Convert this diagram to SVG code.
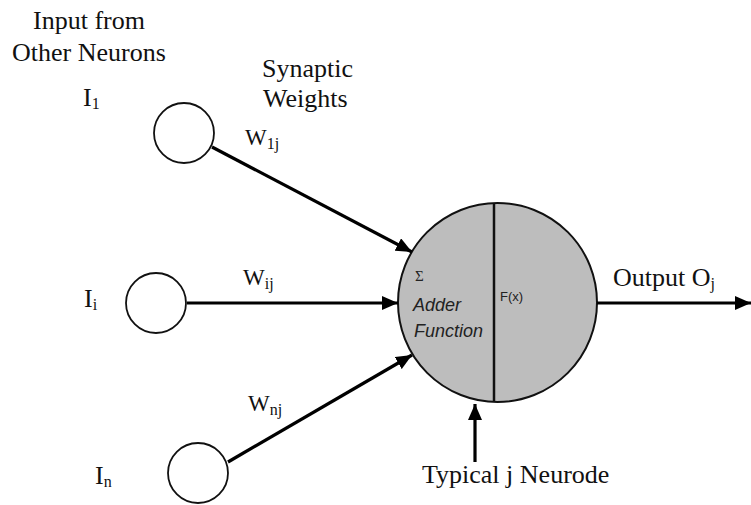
<svg xmlns="http://www.w3.org/2000/svg" width="751" height="505" viewBox="0 0 751 505">
<defs>
<marker id="ah" markerUnits="userSpaceOnUse" markerWidth="18" markerHeight="14" refX="16" refY="7" orient="auto">
<path d="M0,0 L16,7 L0,14 Z" fill="#000"/>
</marker>
<style>
.t{font-family:"Liberation Serif","Times New Roman",serif;font-size:26px;fill:#111}
.w{font-family:"Liberation Serif","Times New Roman",serif;font-size:23px;fill:#111}
.s{font-size:16px}
.in{fill:#fff;stroke:#111;stroke-width:1.8}
.c{stroke:#000;stroke-width:3.2;fill:none;marker-end:url(#ah)}
.i{font-family:"Liberation Sans",Arial,sans-serif;font-style:italic;font-size:18px;fill:#222}
</style>
</defs>
<rect width="751" height="505" fill="#fff"/>
<g id="labels">
<text class="t" x="33" y="29">Input from</text>
<text class="t" x="12" y="61">Other Neurons</text>
<text class="t" x="262" y="77">Synaptic</text>
<text class="t" x="263" y="107">Weights</text>
</g>
<g id="input1">
<circle class="in" cx="184" cy="133" r="30"/>
<text class="t" x="83" y="106">I<tspan class="s" dy="3">1</tspan></text>
</g>
<g id="inputi">
<circle class="in" cx="156" cy="303" r="30"/>
<text class="t" x="84" y="307">I<tspan class="s" dy="3">i</tspan></text>
</g>
<g id="inputn">
<circle class="in" cx="198" cy="473" r="30"/>
<text class="t" x="95" y="484">I<tspan class="s" dy="3">n</tspan></text>
</g>
<g id="neurode">
<circle cx="497.5" cy="302.5" r="99.5" fill="#bdbdbd" stroke="#111" stroke-width="2"/>
<line x1="494" y1="203" x2="494" y2="402" stroke="#111" stroke-width="2.5"/>
<text x="415" y="281" font-family="'Liberation Serif',serif" font-size="15" fill="#222">Σ</text>
<text class="i" x="413" y="311">Adder</text>
<text class="i" x="414" y="337">Function</text>
<text x="500" y="301" font-family="'Liberation Sans',Arial,sans-serif" font-size="13" fill="#222">F(x)</text>
</g>
<g id="connectors">
<line class="c" x1="212" y1="147" x2="412" y2="252"/>
<line class="c" x1="187" y1="303" x2="398" y2="303"/>
<line class="c" x1="228" y1="462" x2="412" y2="355"/>
<line class="c" x1="597" y1="303" x2="751" y2="303"/>
<line class="c" x1="475" y1="462" x2="475" y2="404"/>
</g>
<g id="weights">
<text class="w" x="245" y="145">W<tspan class="s" dy="4">1j</tspan></text>
<text class="w" x="243" y="285">W<tspan class="s" dy="4">ij</tspan></text>
<text class="w" x="248" y="411">W<tspan class="s" dy="4">nj</tspan></text>
</g>
<g id="out-labels">
<text class="t" x="613" y="286">Output O<tspan class="s" dy="3">j</tspan></text>
<text class="t" x="422" y="483">Typical j Neurode</text>
</g>
</svg>
